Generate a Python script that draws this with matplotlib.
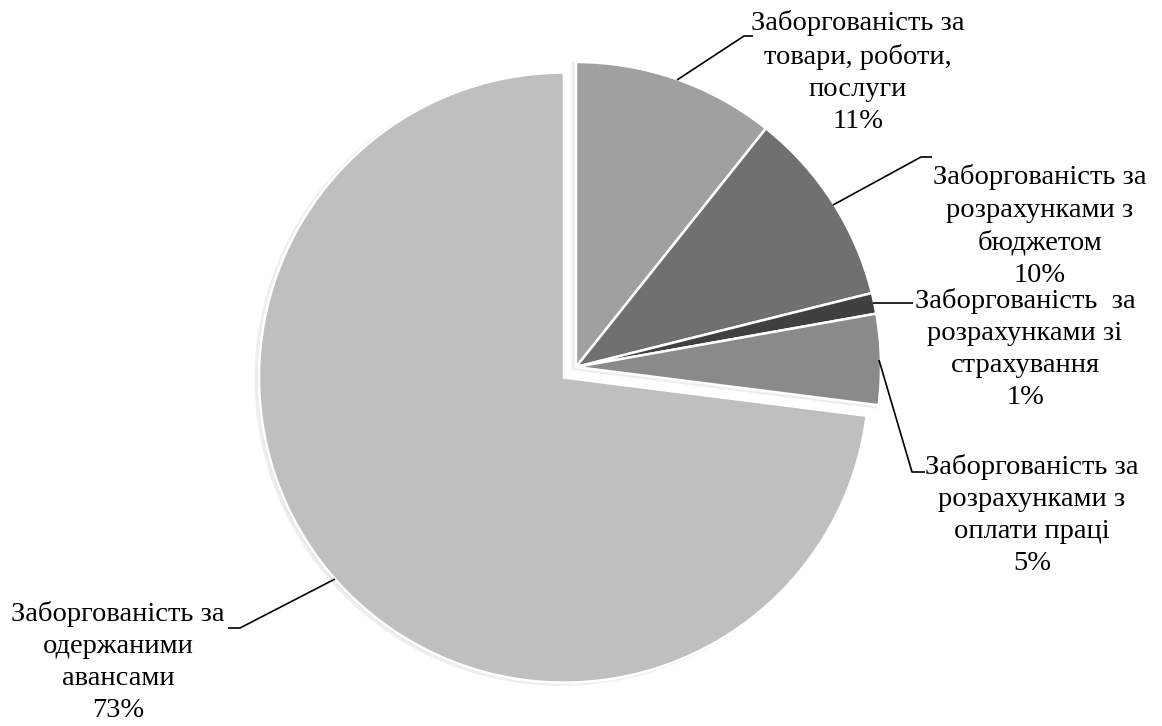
import matplotlib
matplotlib.use('Agg')
import matplotlib.pyplot as plt

plt.rcParams['font.family'] = ['Liberation Serif', 'DejaVu Serif']

# data
labels = ['Заборгованість за\nтовари, роботи,\nпослуги',
          'Заборгованість за\nрозрахунками з\nбюджетом',
          'Заборгованість  за\nрозрахунками зі\nстрахування',
          'Заборгованість за\nрозрахунками з\nоплати праці',
          'Заборгованість за\nодержаними\nавансами']
values = [10.7, 10.4, 1.1, 4.8, 73.0]
colors = ['#a0a0a0', '#707070', '#404040', '#8a8a8a', '#bfbfbf']

W, H = 1162, 726
cx, cy, R = 576, 367, 305


def px(x, y):
    return (x - cx) / R, (cy - y) / R


# label centres and leader lines, in picture pixels
text_pos = [(858, 72), (1040, 226), (1025, 349), (1032, 515), (118, 662)]
leaders = [[(677, 80), (744, 36), (753, 36)],
           [(833, 205), (921, 157), (932, 157)],
           [(873, 303), (913, 303)],
           [(879, 360), (912, 472), (925, 472)],
           [(335, 579), (240, 628), (228, 628)]]

fig = plt.figure(figsize=(W / 100, H / 100), dpi=100)
ax = fig.add_axes([0, 0, 1, 1])

explode = [0, 0, 0, 0, 16 / R]
# soft shadow
ax.pie(values, explode=explode, startangle=90, counterclock=False,
       colors=['#e2e2e2'] * len(values), center=(-0.01, -0.006),
       wedgeprops={'edgecolor': '#eeeeee', 'linewidth': 2, 'zorder': 0})
wedges, _ = ax.pie(values, explode=explode, startangle=90, counterclock=False,
                   colors=colors,
                   wedgeprops={'edgecolor': 'white', 'linewidth': 1.8})

tot = sum(values)
for lab, v, (tx, ty) in zip(labels, values, text_pos):
    x, y = px(tx, ty)
    ax.text(x, y, f'{lab}\n{round(v / tot * 100):.0f}%', ha='center', va='center',
            fontsize=20.5, linespacing=1.38)

for pts in leaders:
    xs, ys = zip(*[px(a, b) for a, b in pts])
    ax.plot(xs, ys, color='black', lw=1.2, solid_capstyle='butt')

ax.set_xlim(px(0, 0)[0], px(W, 0)[0])
ax.set_ylim(px(0, H)[1], px(0, 0)[1])
ax.set_aspect('equal')
ax.axis('off')
fig.savefig('out.png', dpi=100)
